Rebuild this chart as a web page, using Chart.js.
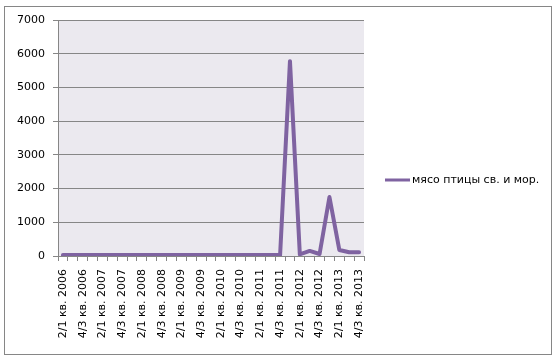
<!DOCTYPE html>
<html>
<head>
<meta charset="utf-8">
<script src="https://cdn.jsdelivr.net/npm/chart.js@4"></script>
<style>
  body { margin: 0; background: #fff; }
  #wrap { position: relative; width: 560px; height: 362px; }
  #frame { position: absolute; left: 4px; top: 6px; width: 546px; height: 347px; border: 1px solid #868686; pointer-events: none; }
</style>
</head>
<body>
<div id="wrap">
  <canvas id="myLineChart" width="560" height="362"></canvas>
  <div id="frame"></div>
</div>
<script>
  const quarters = [
    "2/1 кв. 2006", "3/2 кв. 2006", "4/3 кв. 2006",
    "1/4 кв. 2007", "2/1 кв. 2007", "3/2 кв. 2007", "4/3 кв. 2007",
    "1/4 кв. 2008", "2/1 кв. 2008", "3/2 кв. 2008", "4/3 кв. 2008",
    "1/4 кв. 2009", "2/1 кв. 2009", "3/2 кв. 2009", "4/3 кв. 2009",
    "1/4 кв. 2010", "2/1 кв. 2010", "3/2 кв. 2010", "4/3 кв. 2010",
    "1/4 кв. 2011", "2/1 кв. 2011", "3/2 кв. 2011", "4/3 кв. 2011",
    "1/4 кв. 2012", "2/1 кв. 2012", "3/2 кв. 2012", "4/3 кв. 2012",
    "1/4 кв. 2013", "2/1 кв. 2013", "3/2 кв. 2013", "4/3 кв. 2013"
  ];
  const poultry = [
    30, 30, 30, 30, 30, 30, 30, 30, 30, 30, 30,
    30, 30, 30, 30, 30, 30, 30, 30, 30, 30, 30,
    30, 5780, 50, 150, 60, 1750, 180, 110, 110
  ];
  const seriesName = "мясо птицы св. и мор.";
  const yTicks = [0, 1000, 2000, 3000, 4000, 5000, 6000, 7000];

  const lineColor = "#7F63A1";
  const gridColor = "#868686";
  const font = { family: "DejaVu Sans", size: 11 };

  const plotBg = {
    id: "plotBg",
    beforeDraw(chart) {
      const { ctx, chartArea: a } = chart;
      ctx.save();
      ctx.fillStyle = "#EBE9EF";
      ctx.fillRect(a.left, a.top, a.right - a.left, a.bottom - a.top);
      ctx.restore();
    }
  };

  const sideLegend = {
    id: "sideLegend",
    afterDraw(chart) {
      const ctx = chart.ctx;
      const y = 180;
      ctx.save();
      ctx.strokeStyle = lineColor;
      ctx.lineWidth = 3;
      ctx.beginPath();
      ctx.moveTo(385, y);
      ctx.lineTo(410, y);
      ctx.stroke();
      ctx.fillStyle = "#000";
      ctx.font = "11px 'DejaVu Sans'";
      ctx.textBaseline = "middle";
      ctx.fillText(seriesName, 412, y);
      ctx.restore();
    }
  };

  const ctx = document.getElementById("myLineChart");
  const chart = new Chart(ctx, {
    type: "line",
    data: {
      labels: quarters,
      datasets: [{
        label: seriesName,
        data: poultry,
        borderColor: lineColor,
        borderWidth: 4,
        pointRadius: 0,
        tension: 0,
        borderJoinStyle: "round",
        borderCapStyle: "round",
        fill: false
      }]
    },
    options: {
      responsive: false,
      animation: false,
      layout: { padding: { left: 0, top: 20, right: 196, bottom: 0 } },
      plugins: { legend: { display: false }, tooltip: { enabled: false } },
      scales: {
        x: {
          offset: true,
          afterFit: (s) => { s.height = 106; },
          grid: { offset: true, drawOnChartArea: false, drawTicks: true, tickLength: 5, color: gridColor },
          border: { color: gridColor },
          ticks: {
            autoSkip: false,
            maxRotation: 90,
            minRotation: 90,
            padding: 8,
            color: "#000",
            font: font,
            callback: (v, i) => (i % 2 === 0 ? quarters[i] : "")
          }
        },
        y: {
          min: 0,
          max: 7000,
          afterFit: (s) => { s.width = 58; },
          afterBuildTicks: (s) => { s.ticks = yTicks.map(v => ({ value: v })); },
          grid: { color: gridColor, tickLength: 5 },
          border: { color: gridColor },
          ticks: { padding: 8, color: "#000", font: font, callback: (v) => String(v) }
        }
      }
    },
    plugins: [plotBg, sideLegend]
  });
</script>
</body>
</html>
